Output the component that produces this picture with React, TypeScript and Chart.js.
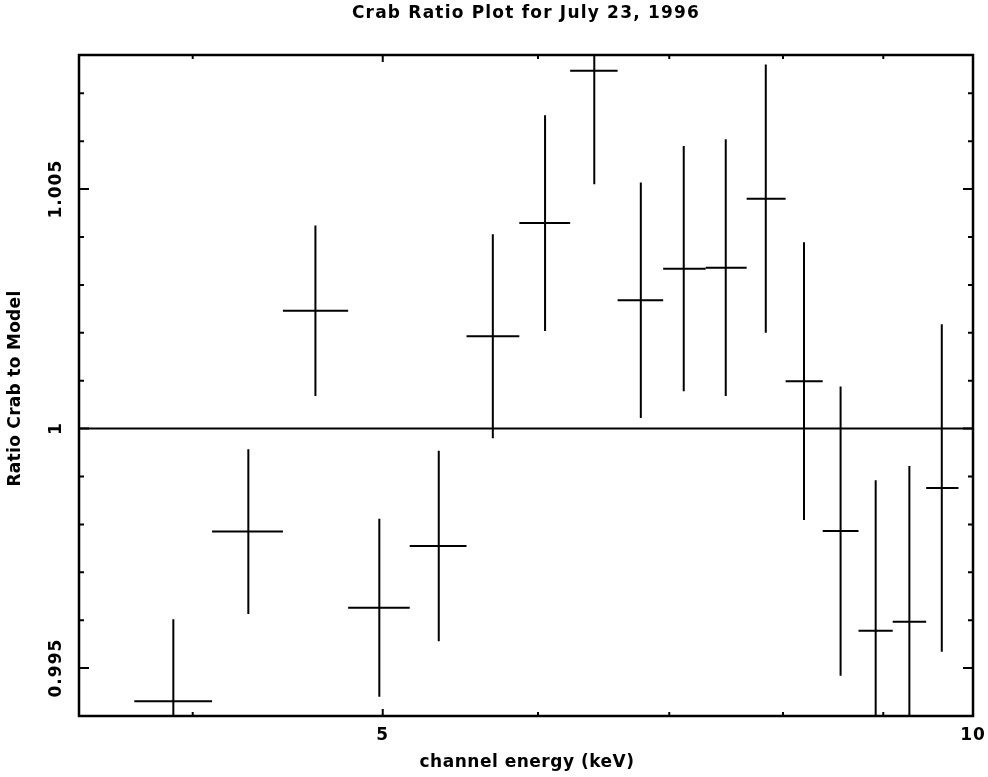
import React, { useEffect, useRef } from "react";
import { Chart, registerables } from "chart.js";

Chart.register(...registerables);

// ---- data ----
const energy = [3.91, 4.27, 4.62, 4.98, 5.34, 5.69, 6.05, 6.41, 6.77, 7.12, 7.48, 7.84, 8.20, 8.56, 8.92, 9.28, 9.64];
const energyLo = [3.735, 4.092, 4.447, 4.801, 5.161, 5.517, 5.870, 6.231, 6.588, 6.950, 7.306, 7.666, 8.025, 8.382, 8.742, 9.100, 9.465];
const energyHi = [4.092, 4.447, 4.801, 5.161, 5.517, 5.870, 6.231, 6.588, 6.950, 7.306, 7.666, 8.025, 8.382, 8.742, 9.100, 9.465, 9.831];
const ratio = [0.99431, 0.99785, 1.00246, 0.99626, 0.99755, 1.00193, 1.00429, 1.00747, 1.00268, 1.00334, 1.00336, 1.0048, 1.00099, 0.99786, 0.99578, 0.99597, 0.99876];
const ratioErr = [0.00171, 0.00172, 0.00178, 0.00186, 0.00199, 0.00213, 0.00225, 0.00237, 0.00246, 0.00256, 0.00268, 0.0028, 0.0029, 0.00302, 0.00314, 0.00325, 0.00342];

const xMajorTicks = [5, 10];
const xMajorLabels = ["5", "10"];
const xMinorTicks = [4, 6, 7, 8, 9];
const yMajorTicks = [0.995, 1, 1.005];
const yMajorLabels = ["0.995", "1", "1.005"];
const yMinorTicks = [0.996, 0.997, 0.998, 0.999, 1.001, 1.002, 1.003, 1.004, 1.006, 1.007];
const referenceLevel = 1;

const titleText = "Crab Ratio Plot for July 23, 1996";
const xTitle = "channel energy (keV)";
const yTitle = "Ratio Crab to Model";

const FONT = 'bold 17px "DejaVu Sans"';

const pgplotPlugin = {
  id: "pgplot",
  afterDatasetsDraw(chart: any) {
    const { ctx, chartArea: a, scales } = chart;
    const xs = scales.x;
    const ys = scales.y;
    ctx.save();
    ctx.beginPath();
    ctx.rect(a.left, a.top, a.right - a.left, a.bottom - a.top);
    ctx.clip();
    ctx.strokeStyle = "#000";
    ctx.lineWidth = 2;
    // reference line
    const yr = ys.getPixelForValue(referenceLevel);
    ctx.beginPath();
    ctx.moveTo(a.left, yr);
    ctx.lineTo(a.right, yr);
    ctx.stroke();
    // error crosses
    for (let i = 0; i < energy.length; i++) {
      const py = ys.getPixelForValue(ratio[i]);
      const px = xs.getPixelForValue(energy[i]);
      ctx.beginPath();
      ctx.moveTo(xs.getPixelForValue(energyLo[i]), py);
      ctx.lineTo(xs.getPixelForValue(energyHi[i]), py);
      ctx.moveTo(px, ys.getPixelForValue(ratio[i] - ratioErr[i]));
      ctx.lineTo(px, ys.getPixelForValue(ratio[i] + ratioErr[i]));
      ctx.stroke();
    }
    ctx.restore();

    ctx.save();
    ctx.strokeStyle = "#000";
    // ticks
    ctx.lineWidth = 2;
    ctx.beginPath();
    const xt = (vals: number[], len: number) => {
      vals.forEach((v) => {
        const p = xs.getPixelForValue(v);
        ctx.moveTo(p, a.bottom);
        ctx.lineTo(p, a.bottom - len);
        ctx.moveTo(p, a.top);
        ctx.lineTo(p, a.top + len);
      });
    };
    const yt = (vals: number[], len: number) => {
      vals.forEach((v) => {
        const p = ys.getPixelForValue(v);
        ctx.moveTo(a.left, p);
        ctx.lineTo(a.left + len, p);
        ctx.moveTo(a.right, p);
        ctx.lineTo(a.right - len, p);
      });
    };
    xt(xMajorTicks, 7);
    xt(xMinorTicks, 4);
    yt(yMajorTicks, 10);
    yt(yMinorTicks, 5);
    ctx.stroke();
    // frame
    ctx.lineWidth = 2.5;
    ctx.strokeRect(a.left, a.top, a.right - a.left, a.bottom - a.top);

    // text
    ctx.fillStyle = "#000";
    ctx.font = FONT;
    ctx.textAlign = "center";
    ctx.textBaseline = "middle";
    const cx = (a.left + a.right) / 2;
    ctx.letterSpacing = "1.2px";
    ctx.fillText(titleText, cx, a.top - 41);
    ctx.letterSpacing = "1px";
    xMajorTicks.forEach((v, i) => {
      ctx.fillText(xMajorLabels[i], xs.getPixelForValue(v), a.bottom + 20);
    });
    yMajorTicks.forEach((v, i) => {
      ctx.save();
      ctx.translate(a.left - 22, ys.getPixelForValue(v));
      ctx.rotate(-Math.PI / 2);
      ctx.fillText(yMajorLabels[i], 0, 0);
      ctx.restore();
    });
    ctx.letterSpacing = "0.5px";
    ctx.fillText(xTitle, cx + 1, a.bottom + 47);
    ctx.letterSpacing = "0.3px";
    ctx.save();
    ctx.translate(16, (a.top + a.bottom) / 2 + 3);
    ctx.rotate(-Math.PI / 2);
    ctx.fillText(yTitle, 0, 0);
    ctx.restore();
    ctx.restore();
  },
};

export default function App() {
  const ref = useRef<HTMLCanvasElement>(null);
  useEffect(() => {
    if (!ref.current) return;
    const chart = new Chart(ref.current, {
      type: "scatter",
      data: {
        datasets: [
          {
            label: "ratio",
            data: energy.map((e, i) => ({ x: e, y: ratio[i] })),
            pointRadius: 0,
            showLine: false,
            borderColor: "#000",
            backgroundColor: "#000",
          },
        ],
      },
      options: {
        animation: false,
        responsive: false,
        layout: { padding: { left: 79, top: 55, right: 15, bottom: 61 } },
        plugins: { legend: { display: false }, tooltip: { enabled: false }, title: { display: false } },
        scales: {
          x: { type: "logarithmic", min: 3.5, max: 10, display: false },
          y: { type: "linear", min: 0.994, max: 1.0078, display: false },
        },
      },
      plugins: [pgplotPlugin],
    });
    return () => chart.destroy();
  }, []);
  return (
    <canvas
      ref={ref}
      width={988}
      height={777}
      style={{ position: "absolute", left: 0, top: 0, width: 988, height: 777, background: "#fff" }}
    />
  );
}
